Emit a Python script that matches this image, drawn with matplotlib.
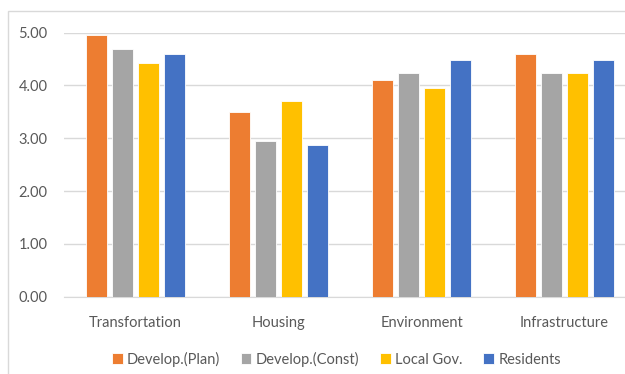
import matplotlib.pyplot as plt
import numpy as np
from matplotlib.patches import Rectangle

categories = ["Transfortation", "Housing", "Environment", "Infrastructure"]
series_names = ["Develop.(Plan)", "Develop.(Const)", "Local Gov.", "Residents"]
develop_plan = [4.96, 3.50, 4.10, 4.60]
develop_const = [4.70, 2.95, 4.23, 4.23]
local_gov = [4.43, 3.71, 3.96, 4.23]
residents = [4.60, 2.87, 4.48, 4.48]
colors = ["#ED7D31", "#A5A5A5", "#FFC000", "#4472C4"]

plt.rcParams['font.family'] = ['Lato', 'DejaVu Sans']

fig = plt.figure(figsize=(6.25, 3.74), dpi=100)
ax = fig.add_axes([64 / 625, 1 - 296.7 / 374, 572 / 625, 264 / 374])

# light border of the chart area
fig.patches.append(Rectangle((8 / 625, -0.05), 1.2, 1 - 10.7 / 374 + 0.05,
                             transform=fig.transFigure, fill=False,
                             edgecolor="#D9D9D9", linewidth=1))

x = np.arange(len(categories))
pitch = 0.18
width = 0.147
series = [develop_plan, develop_const, local_gov, residents]
for i, (vals, name, c) in enumerate(zip(series, series_names, colors)):
    ax.bar(x + (i - 1.5) * pitch, vals, width, color=c, label=name,
           edgecolor="white", linewidth=0.6, zorder=3)

ax.set_xlim(-0.5, 3.5)
ax.set_ylim(0, 5)
ax.set_yticks(np.arange(0, 5.01, 1))
ax.set_yticklabels([f"{v:.2f}" for v in np.arange(0, 5.01, 1)])
ax.set_xticks(x)
ax.set_xticklabels(categories)
ax.tick_params(axis="both", length=0, colors="#595959", labelsize=10.5)
ax.tick_params(axis="x", pad=14)
ax.tick_params(axis="y", pad=12)
ax.grid(axis="y", color="#D9D9D9", linewidth=1, zorder=0)
for s in ["top", "right", "left"]:
    ax.spines[s].set_visible(False)
ax.spines["bottom"].set_color("#D9D9D9")

fig.legend(loc="center", bbox_to_anchor=(0.538, 1 - 359 / 374), ncol=4,
           frameon=False, fontsize=10.5, handlelength=0.75, handleheight=0.75,
           handletextpad=0.3, columnspacing=1.4, labelcolor="#595959")

fig.savefig("out.png", dpi=100)
